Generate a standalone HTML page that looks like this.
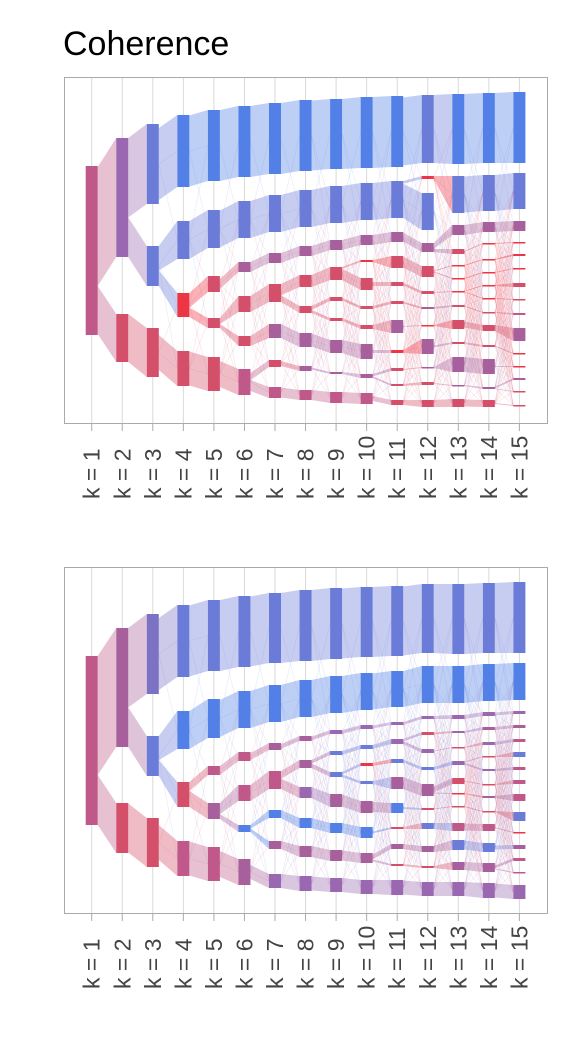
<!DOCTYPE html>
<html><head><meta charset="utf-8">
<style>
body{margin:0;background:#fff;width:576px;height:1056px;overflow:hidden;font-family:"Liberation Sans",sans-serif;}
svg{display:block}
</style></head>
<body>
<svg id="chart" width="576" height="1056">
<text x="63" y="55" font-size="34" fill="#000" font-family="Liberation Sans, sans-serif">Coherence</text>
</svg>
<script>
// Categories
const kLabels = ["k = 1","k = 2","k = 3","k = 4","k = 5","k = 6","k = 7","k = 8","k = 9","k = 10","k = 11","k = 12","k = 13","k = 14","k = 15"];
// Colour codes: coherence class of each cluster
const colorMap = {B:"#5280e6",P:"#6b7bd8",V:"#7b72c4",M:"#a8609c",U:"#9a68b0",Q:"#c0598a",R:"#d4506a",r:"#ec3545"};
// Top panel clusters per k: [start, end, class] on vertical data axis (0..347)
const topNodes = [
 [[89,258,"Q"]],
 [[61,180,"U"],[237,285,"R"]],
 [[47,127,"P"],[169,209,"P"],[251,300,"R"]],
 [[38,110,"B"],[144,182,"P"],[216,240,"r"],[274,309,"R"]],
 [[33,104,"B"],[133,171,"P"],[199,215,"R"],[241,251,"R"],[280,314,"R"]],
 [[29,100,"B"],[124,161,"P"],[185,195,"M"],[219,235,"R"],[259,269,"R"],[292,318,"Q"]],
 [[26,97,"B"],[118,155,"P"],[176,186,"M"],[207,225,"R"],[247,261,"M"],[283,290,"R"],[310,321,"Q"]],
 [[23,94,"B"],[113,150,"P"],[169,179,"M"],[198,210,"R"],[229,236,"R"],[256,270,"M"],[289,294,"M"],[313,323,"Q"]],
 [[22,92,"B"],[109,146,"P"],[163,173,"M"],[190,203,"R"],[220,224,"R"],[241,244,"R"],[263,276,"M"],[295,297,"M"],[315,326,"Q"]],
 [[20,91,"B"],[106,143,"P"],[158,168,"M"],[183,185,"r"],[201,213,"R"],[229,232,"R"],[248,252,"R"],[267,282,"M"],[297,301,"M"],[316,327,"Q"]],
 [[19,90,"B"],[104,141,"P"],[155,165,"M"],[179,191,"R"],[205,209,"R"],[224,227,"R"],[243,256,"M"],[273,276,"r"],[291,294,"R"],[307,309,"R"],[323,328,"R"]],
 [[18,86,"P"],[99,102,"r"],[116,153,"P"],[166,175,"M"],[189,200,"R"],[214,217,"R"],[230,232,"M"],[248,249,"r"],[262,277,"M"],[290,291,"M"],[305,308,"R"],[323,330,"R"]],
 [[17,87,"B"],[99,136,"P"],[148,158,"M"],[172,177,"R"],[188,189,"r"],[201,202,"r"],[214,215,"r"],[228,230,"R"],[243,252,"R"],[265,267,"R"],[280,295,"M"],[308,309,"M"],[322,330,"R"]],
 [[16,86,"B"],[98,134,"P"],[145,155,"M"],[166,167,"r"],[182,183,"r"],[195,196,"r"],[208,209,"r"],[221,222,"r"],[235,236,"R"],[248,254,"R"],[268,270,"R"],[282,297,"M"],[310,312,"M"],[323,330,"R"]],
 [[15,86,"B"],[96,132,"P"],[144,154,"M"],[165,166,"r"],[177,179,"r"],[191,192,"r"],[206,210,"R"],[222,223,"R"],[236,238,"Q"],[251,264,"M"],[276,277,"r"],[289,290,"r"],[301,303,"M"],[314,315,"R"],[328,329,"R"]]
];
// Bottom panel clusters per k
const bottomNodes = [
 [[89,258,"Q"]],
 [[61,180,"M"],[236,286,"R"]],
 [[47,127,"V"],[169,209,"P"],[251,300,"R"]],
 [[38,110,"P"],[144,182,"B"],[215,240,"R"],[274,309,"Q"]],
 [[33,104,"P"],[132,171,"B"],[199,208,"Q"],[236,252,"M"],[280,314,"Q"]],
 [[29,100,"P"],[124,161,"B"],[185,194,"Q"],[218,234,"Q"],[258,265,"B"],[292,318,"M"]],
 [[26,96,"P"],[118,155,"B"],[176,183,"M"],[204,222,"Q"],[243,251,"B"],[274,282,"M"],[307,321,"U"]],
 [[23,94,"P"],[113,150,"B"],[169,174,"M"],[193,201,"M"],[220,231,"U"],[251,261,"B"],[279,290,"M"],[309,324,"U"]],
 [[21,92,"P"],[109,146,"B"],[163,167,"U"],[184,188,"P"],[205,210,"P"],[227,240,"M"],[256,266,"B"],[283,294,"M"],[311,325,"U"]],
 [[20,90,"P"],[106,143,"B"],[158,162,"U"],[178,182,"P"],[196,199,"r"],[214,217,"P"],[234,246,"M"],[260,271,"B"],[286,296,"M"],[313,327,"U"]],
 [[19,89,"P"],[104,140,"B"],[155,158,"U"],[172,177,"U"],[192,196,"P"],[210,222,"M"],[236,246,"B"],[260,262,"R"],[277,282,"M"],[297,299,"R"],[313,328,"U"]],
 [[17,86,"P"],[99,136,"B"],[149,152,"U"],[165,168,"R"],[182,186,"U"],[200,203,"P"],[217,229,"M"],[241,243,"R"],[256,262,"P"],[279,285,"M"],[299,301,"R"],[315,329,"U"]],
 [[17,87,"P"],[99,136,"B"],[148,152,"U"],[164,166,"U"],[180,181,"R"],[194,198,"U"],[211,217,"R"],[226,227,"r"],[239,240,"R"],[256,264,"Q"],[273,283,"P"],[295,303,"M"],[315,329,"U"]],
 [[16,86,"P"],[97,134,"B"],[145,149,"U"],[160,163,"M"],[175,178,"U"],[189,190,"R"],[202,204,"U"],[217,218,"R"],[229,231,"M"],[244,245,"R"],[257,264,"Q"],[276,285,"P"],[296,305,"M"],[316,331,"U"]],
 [[15,86,"P"],[96,133,"B"],[144,147,"U"],[158,161,"M"],[172,175,"Q"],[185,190,"P"],[200,203,"Q"],[213,217,"Q"],[227,234,"Q"],[245,254,"P"],[265,266,"r"],[278,282,"M"],[291,294,"Q"],[305,306,"Q"],[318,332,"U"]]
];

const NS="http://www.w3.org/2000/svg";
const svg=document.getElementById('chart');
const panelLeft=64, panelRight=547, panelH=347;
function xScale(i){return 91.7+i*30.55;}
function mk(tag,attrs,parent){const e=document.createElementNS(NS,tag);for(const k in attrs)e.setAttribute(k,attrs[k]);(parent||svg).appendChild(e);return e;}

function drawPanel(nodes, top, tag){
  const g=mk('g',{});
  
  
  const yS=v=>top+v;
  for(let i=0;i<kLabels.length;i++){
    const gl=mk('line',{x1:xScale(i),x2:xScale(i),y1:top,y2:top+panelH,stroke:'#d9d9d9','stroke-width':1},g);
    
    
    const tk=mk('line',{x1:xScale(i),x2:xScale(i),y1:top+panelH,y2:top+panelH+7,stroke:'#aaa','stroke-width':1},g);
    
    
    const t=mk('text',{x:0,y:0,transform:`translate(${xScale(i)+8},${top+panelH+75}) rotate(-90)`,'font-size':23,fill:'#444','font-family':'Liberation Sans, sans-serif'},g);
    t.textContent=kLabels[i];
    
    
  }
  for(let i=1;i<nodes.length;i++){
    if(i<3) continue;
    for(const c of nodes[i]){
      const cc=(c[0]+c[1])/2;
      for(const p of nodes[i-1]){
        const pc=(p[0]+p[1])/2;
        if(Math.abs(pc-cc)<110 && Math.abs(pc-cc)>4){
          const ln=mk('line',{x1:xScale(i-1)+6,y1:yS(pc),x2:xScale(i)-6,y2:yS(cc),stroke:colorMap[p[2]],'stroke-width':0.8,'stroke-opacity':0.13},g);
          
          
        }
      }
    }
  }
  for(let i=1;i<nodes.length;i++){
    const prev=nodes[i-1];
    const kids=prev.map(()=>[]);
    nodes[i].forEach(c=>{
      const cc=(c[0]+c[1])/2;let best=0,bd=1e9;
      prev.forEach((p,j)=>{const d=Math.abs((p[0]+p[1])/2-cc);if(d<bd){bd=d;best=j;}});
      kids[best].push(c);
    });
    prev.forEach((p,j)=>{
      const ch=kids[j]; if(!ch.length) return;
      const sum=ch.reduce((a,c)=>a+(c[1]-c[0]),0);
      const ph=p[1]-p[0];
      const sc=Math.min(1,ph/sum);
      let off=p[0]+(sum*sc<ph?(ph-sum*sc)/2:0);
      ch.forEach(c=>{
        const h=(c[1]-c[0])*sc;
        const x1=xScale(i-1)+6,x2=xScale(i)-6;
        const poly=mk('polygon',{points:`${x1},${yS(off)} ${x2},${yS(c[0])} ${x2},${yS(c[1])} ${x1},${yS(off+h)}`,fill:colorMap[p[2]],'fill-opacity':0.38},g);
        
        
        off+=h;
      });
    });
  }
  nodes.forEach((col,i)=>{
    col.forEach(n=>{
      const r=mk('rect',{x:xScale(i)-6,y:yS(n[0]),width:12,height:Math.max(1.5,n[1]-n[0]),fill:colorMap[n[2]]},g);
      
      
    });
  });
  const b=mk('rect',{x:panelLeft+0.5,y:top+0.5,width:panelRight-panelLeft,height:panelH-1,fill:'none',stroke:'#aaa','stroke-width':1},g);
  
  
}
drawPanel(topNodes,77,'top');
drawPanel(bottomNodes,567,'bottom');
</script>
</body></html>
